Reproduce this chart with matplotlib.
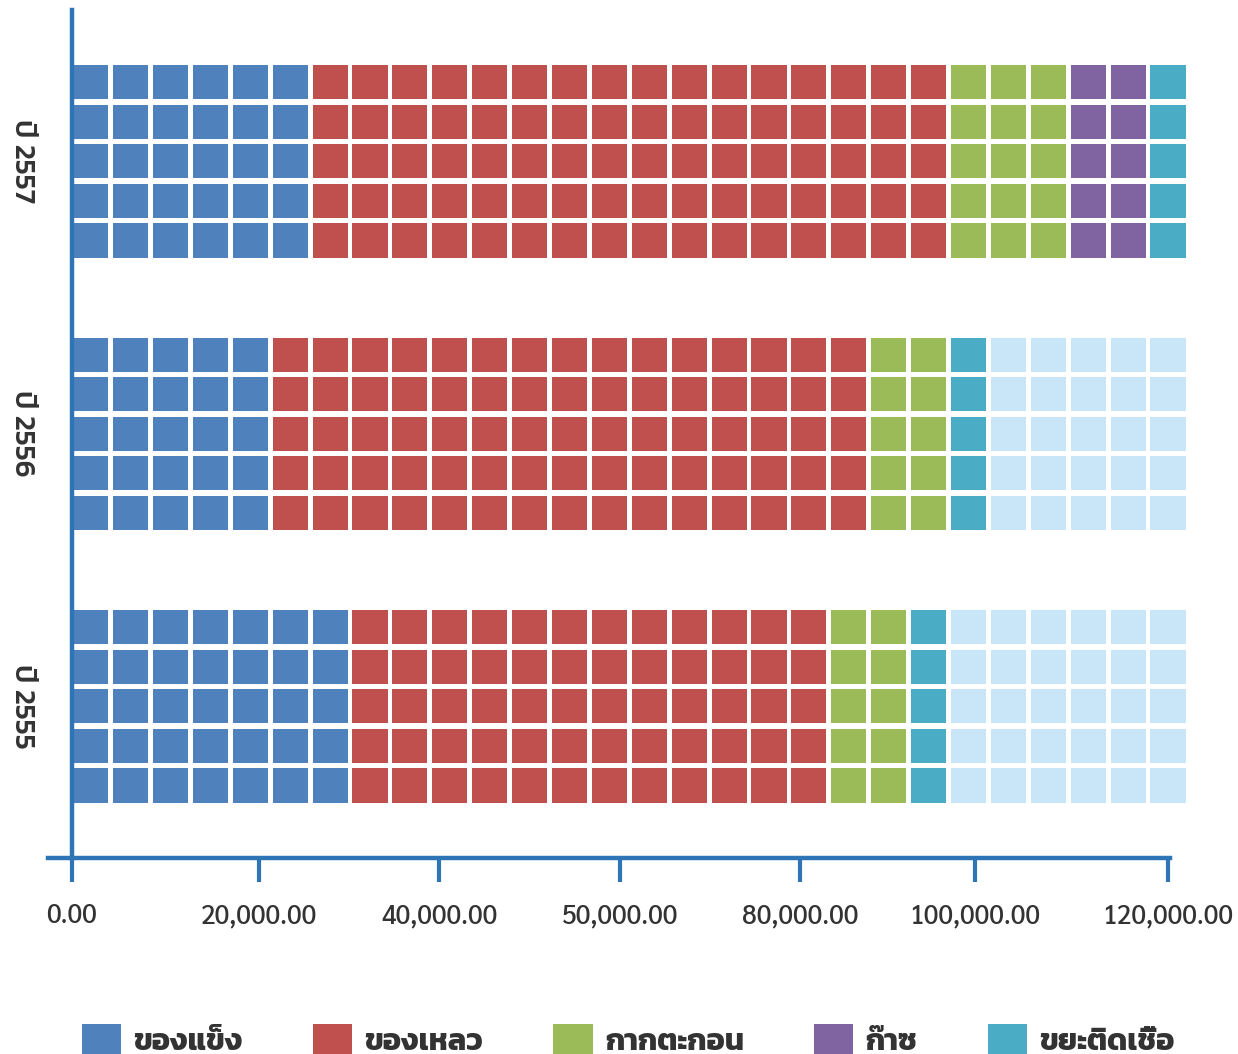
import matplotlib
matplotlib.use('Agg')
import matplotlib.pyplot as plt
from matplotlib.patches import Patch
import numpy as np

# data: number of squares (out of 28 per row) for each waste type
years = ['ปี 2557', 'ปี 2556', 'ปี 2555']
categories = ['ของแข็ง', 'ของเหลว', 'กากตะกอน', 'ก๊าซ', 'ขยะติดเชื้อ']
solid = [6, 5, 7]
liquid = [16, 15, 12]
sludge = [3, 2, 2]
gas = [2, 0, 0]
infectious = [1, 1, 1]
n_cols = 28
n_rows = 5
tick_labels = ['0.00', '20,000.00', '40,000.00', '50,000.00',
               '80,000.00', '100,000.00', '120,000.00']

colors = ['#4F81BD', '#C0504D', '#9BBB59', '#8064A2', '#4BACC6']
empty_color = '#C9E6F8'
axis_color = '#2E75B6'
text_color = '#333333'

thai = ['Kanit', 'Prompt', 'Noto Sans Thai', 'DejaVu Sans']
nums = ['Sarabun', 'Kanit', 'DejaVu Sans']

fig = plt.figure(figsize=(12.38, 10.54), dpi=100)
ax = fig.add_axes([48 / 1238, 1 - 858 / 1054, 1122 / 1238, 848 / 1054])

group_gap = 6.88
first_top = 1.39
cell_h = 0.86
cell_w = 0.88

counts = np.array([solid, liquid, sludge, gas, infectious])
for g in range(len(years)):
    cols = []
    for k in range(len(categories)):
        cols += [colors[k]] * counts[k, g]
    cols += [empty_color] * (n_cols - len(cols))
    top = first_top + g * group_gap
    for r in range(n_rows):
        ax.bar(np.arange(n_cols) + 0.03, cell_h, width=cell_w, bottom=top + r,
               align='edge', color=cols, linewidth=0, clip_on=False)

ax.set_xlim(-0.6, 27.52)
ax.set_ylim(21.41, 0)

ax.spines['top'].set_visible(False)
ax.spines['right'].set_visible(False)
ax.spines['left'].set_position(('data', 0))
for s in ('left', 'bottom'):
    ax.spines[s].set_color(axis_color)
    ax.spines[s].set_linewidth(3.2)

ax.set_xticks([0, 4.69, 9.20, 13.73, 18.25, 22.63, 27.47])
ax.set_xticklabels(tick_labels, fontfamily=nums, fontsize=19,
                   fontweight='medium', color=text_color)
ax.tick_params(axis='x', direction='out', length=17, width=3,
               color=axis_color, pad=15)

centers = [first_top + g * group_gap + 2.43 for g in range(len(years))]
ax.set_yticks(centers)
ax.set_yticklabels(years, rotation=-90, va='center', ha='center',
                   fontfamily=thai, fontsize=21, fontweight='medium',
                   color=text_color)
ax.tick_params(axis='y', length=0, pad=36)

handles = [Patch(facecolor=c, edgecolor='none') for c in colors]
leg = fig.legend(handles, categories, loc='lower left', ncol=5,
                 bbox_to_anchor=(70 / 1238, -0.014), frameon=False,
                 prop={'family': thai, 'size': 22, 'weight': 'bold'},
                 handlelength=1.28, handleheight=1.28, handletextpad=0.4,
                 columnspacing=2.3, borderaxespad=0)
for t in leg.get_texts():
    t.set_color(text_color)

fig.savefig('out.png', dpi=100)
